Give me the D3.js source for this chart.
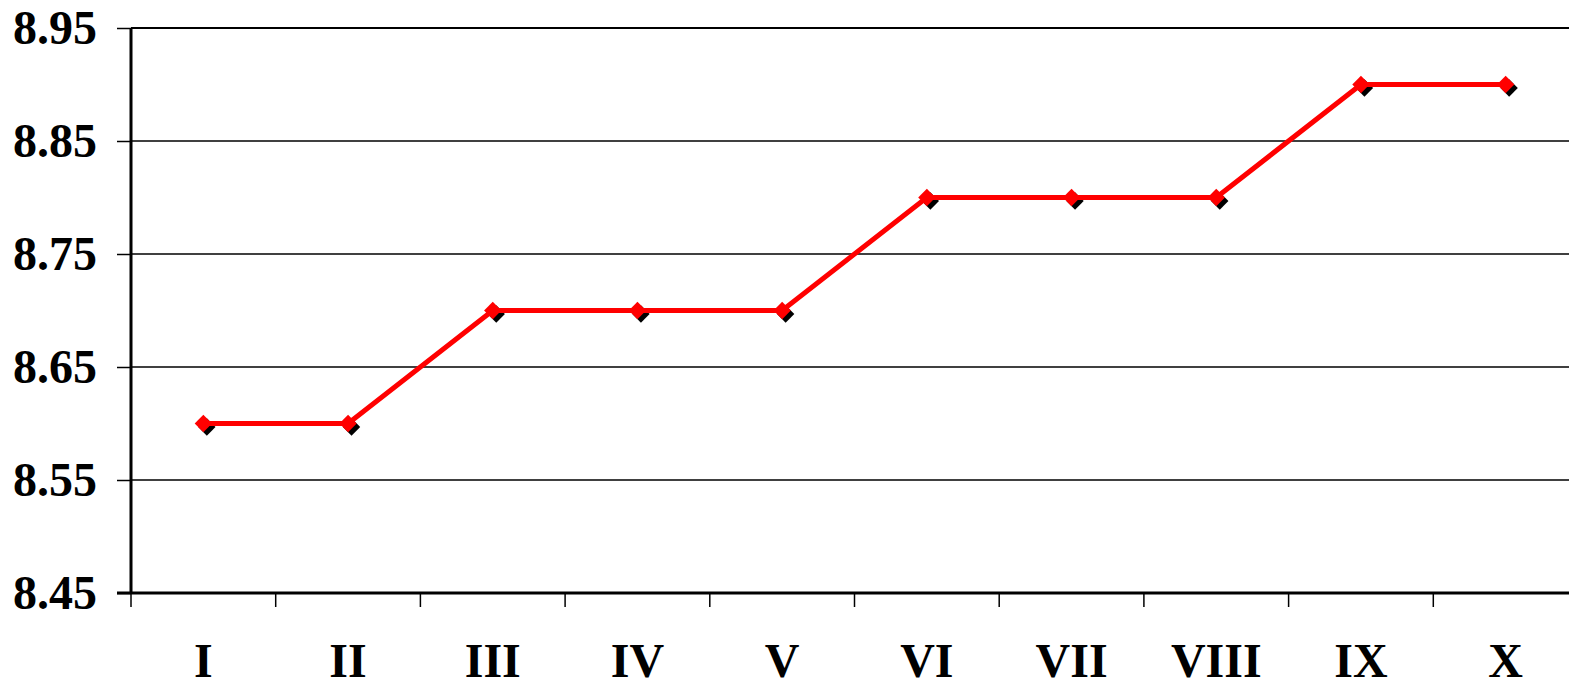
<!DOCTYPE html>
<html>
<head>
<meta charset="utf-8">
<script src="https://cdn.jsdelivr.net/npm/d3@7"></script>
<style>
  html, body { margin: 0; padding: 0; background: #fff; }
  svg { display: block; }
  text { font-family: "Liberation Serif", "Times New Roman", serif; font-weight: bold; }
</style>
</head>
<body>
<svg id="chart" width="1569" height="683"></svg>
<script>
// Quarterly readings, one per Roman-numeral period
const categories = ["I", "II", "III", "IV", "V", "VI", "VII", "VIII", "IX", "X"];
const values = [8.6, 8.6, 8.7, 8.7, 8.7, 8.8, 8.8, 8.8, 8.9, 8.9];
const yTicks = [8.45, 8.55, 8.65, 8.75, 8.85, 8.95];

const W = 1569, H = 683;
const margin = { left: 131, top: 28, bottom: 90 };
const plotRight = 1578; // plot area runs slightly past the page edge

const svg = d3.select("#chart");

const x = d3.scaleBand().domain(categories).range([margin.left, plotRight]).padding(0);
const y = d3.scaleLinear().domain([8.45, 8.95]).range([H - margin.bottom, margin.top]);

// horizontal gridlines
svg.append("g")
  .selectAll("line")
  .data(yTicks.slice(1))
  .join("line")
  .attr("x1", margin.left).attr("x2", W)
  .attr("y1", d => y(d)).attr("y2", d => y(d))
  .attr("stroke", "#000")
  .attr("stroke-width", d => d === 8.95 ? 2.2 : 1.3);

// y axis
const yAxis = svg.append("g")
  .attr("transform", `translate(${margin.left},0)`)
  .call(d3.axisLeft(y).tickValues(yTicks).tickFormat(d3.format(".2f")).tickSize(14).tickPadding(20));
yAxis.select(".domain").attr("stroke-width", 3).attr("d", `M0,${y(8.45)}V${y(8.95)}`);
yAxis.selectAll(".tick line").attr("stroke-width", 1.5);
yAxis.selectAll(".tick text")
  .attr("font-size", 48)
  .attr("fill", "#000")
  .attr("dy", "0.33em")
  .style("font-family", '"Liberation Serif", serif')
  .style("font-weight", "bold");

// x axis: ticks on category boundaries
const xg = svg.append("g").attr("transform", `translate(0,${y(8.45)})`);
xg.append("line")
  .attr("x1", margin.left - 14).attr("x2", W)
  .attr("y1", 0).attr("y2", 0)
  .attr("stroke", "#000").attr("stroke-width", 3);
xg.selectAll("line.tk")
  .data(categories)
  .join("line")
  .attr("class", "tk")
  .attr("x1", d => x(d)).attr("x2", d => x(d))
  .attr("y1", 0).attr("y2", 14)
  .attr("stroke", "#000").attr("stroke-width", 1.5);
xg.selectAll("text")
  .data(categories)
  .join("text")
  .attr("x", d => x(d) + x.bandwidth() / 2)
  .attr("y", 84)
  .attr("text-anchor", "middle")
  .attr("font-size", 48)
  .text(d => d);

const pts = categories.map((c, i) => [x(c) + x.bandwidth() / 2, y(values[i])]);

// shadowed markers sit beneath the line
const diamond = d3.symbol(d3.symbolSquare, 150);
svg.append("g")
  .selectAll("path")
  .data(pts)
  .join("path")
  .attr("d", diamond)
  .attr("transform", d => `translate(${d[0] + 3.5},${d[1] + 3.5}) rotate(45)`)
  .attr("fill", "#000");

svg.append("path")
  .datum(pts)
  .attr("d", d3.line())
  .attr("fill", "none")
  .attr("stroke", "#ff0000")
  .attr("stroke-width", 5);

svg.append("g")
  .selectAll("path")
  .data(pts)
  .join("path")
  .attr("d", diamond)
  .attr("transform", d => `translate(${d[0]},${d[1]}) rotate(45)`)
  .attr("fill", "#ff0000");
</script>
</body>
</html>
